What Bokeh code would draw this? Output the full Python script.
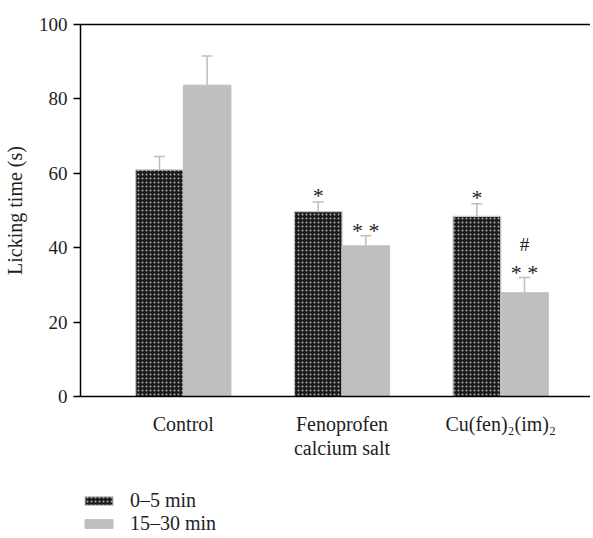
from bokeh.plotting import figure
from bokeh.layouts import column
from bokeh.models import (ColumnDataSource, Range1d, FixedTicker, LinearAxis,
                          Legend, LegendItem, Whisker)
from bokeh.core.properties import value
from bokeh.embed import file_html
from bokeh.resources import INLINE

categories = ["Control", "Fenoprofen\ncalcium salt", "Cu(fen)\u2082(im)\u2082"]
early = [60.9, 49.7, 48.4]          # 0-5 min
early_err = [3.6, 2.6, 3.4]
late = [83.7, 40.5, 27.9]           # 15-30 min
late_err = [7.8, 2.7, 4.1]
early_marks = ["", "*", "*"]
late_marks = ["", "* *", "* *"]
late_hash = ["", "", "#"]
y_ticks = [0, 20, 40, 60, 80, 100]
series_labels = ["0\u20135 min", "15\u201330 min"]

FONT = "Liberation Serif"
TXT = "#1e1e1e"
W = 590
pos = list(range(len(categories)))
off = 0.15
bw = 0.30

EARLY_STYLE = dict(fill_color="#1a1a1a", line_color="#c4c4c4", line_width=1.2,
                   hatch_pattern="dot", hatch_color="#b0b0b0", hatch_scale=4, hatch_weight=1.5)
LATE_STYLE = dict(fill_color="#bfbfbf", line_color="#bfbfbf", line_width=1)

x_e = [p - off for p in pos]
x_l = [p + off for p in pos]

src_e = ColumnDataSource(dict(x=x_e, top=early, upper=[a + b for a, b in zip(early, early_err)],
                              mark=early_marks))
src_l = ColumnDataSource(dict(x=x_l, top=late, upper=[a + b for a, b in zip(late, late_err)],
                              mark=late_marks, hsh=late_hash))

p = figure(width=W, height=461, output_backend="svg", toolbar_location=None,
           x_range=Range1d(-0.648, 2.566), y_range=Range1d(0, 100),
           min_border_left=79, min_border_right=0, min_border_top=24, min_border_bottom=60)
p.outline_line_color = None
p.grid.visible = False

for s in (src_e, src_l):
    w = Whisker(base="x", upper="upper", lower="top", source=s, dimension="height",
                line_color="#bdbdbd", line_width=1.5, level="underlay")
    w.upper_head.line_color = "#bdbdbd"
    w.upper_head.line_width = 1.5
    w.upper_head.size = 11
    w.lower_head = None
    p.add_layout(w)

p.vbar(x="x", top="top", width=bw, source=src_e, **EARLY_STYLE)
p.vbar(x="x", top="top", width=bw, source=src_l, **LATE_STYLE)

for src, col, fs, dy in ((src_e, "mark", "22px", -6), (src_l, "mark", "22px", -5),
                         (src_l, "hsh", "19px", -33)):
    p.text(x="x", y="upper", text=col, source=src, text_font=value(FONT),
           text_font_size=fs, text_align="center", text_baseline="middle",
           y_offset=dy, text_color=TXT)

p.yaxis.ticker = FixedTicker(ticks=y_ticks)
p.yaxis.axis_label = "Licking time (s)"
p.yaxis.axis_label_text_font = FONT
p.yaxis.axis_label_text_font_style = "normal"
p.yaxis.axis_label_text_font_size = "20px"
p.yaxis.major_label_text_font = FONT
p.yaxis.major_label_text_font_size = "19px"
p.yaxis.major_label_text_color = TXT
p.yaxis.axis_label_text_color = TXT
p.yaxis.minor_tick_line_color = None
p.yaxis.major_tick_out = 7
p.yaxis.major_tick_in = 0
p.yaxis.axis_line_width = 1.5
p.yaxis.major_tick_line_width = 1.5
p.yaxis.major_label_standoff = 6
p.yaxis.axis_label_standoff = 10

p.xaxis.ticker = FixedTicker(ticks=pos)
p.xaxis.major_label_overrides = {i: c for i, c in enumerate(categories)}
p.xaxis.major_label_text_font = FONT
p.xaxis.major_label_text_font_size = "20px"
p.xaxis.major_label_text_color = TXT
p.xaxis.major_label_text_line_height = 1.1
p.xaxis.major_tick_line_color = None
p.xaxis.minor_tick_line_color = None
p.xaxis.axis_line_width = 1.5
p.xaxis.major_label_standoff = 10

top_ax = LinearAxis(ticker=FixedTicker(ticks=[]), major_tick_line_color=None,
                    minor_tick_line_color=None, major_label_text_font_size="0px",
                    axis_line_width=1.5)
p.add_layout(top_ax, "above")

# legend panel underneath (same sources; bars lie outside its view range)
lg = figure(width=W, height=74, output_backend="svg", toolbar_location=None,
            x_axis_location=None, y_axis_location=None,
            min_border=0, x_range=Range1d(-0.648, 2.566), y_range=Range1d(200, 300))
lg.outline_line_color = None
lg.grid.visible = False
le = lg.vbar(x="x", top="top", width=bw, source=src_e, **EARLY_STYLE)
ll = lg.vbar(x="x", top="top", width=bw, source=src_l, **LATE_STYLE)
legend = Legend(items=[LegendItem(label=series_labels[0], renderers=[le], index=0),
                       LegendItem(label=series_labels[1], renderers=[ll], index=0)],
                location=(1, 0), orientation="vertical",
                label_text_font=FONT, label_text_font_size="20px",
                label_text_color=TXT,
                glyph_width=35, glyph_height=11, label_height=19, spacing=-5,
                padding=0, margin=0, border_line_color=None,
                background_fill_alpha=0, label_standoff=14)
lg.add_layout(legend, "center")

layout = column(p, lg, spacing=0)
open("out.html", "w").write(file_html(layout, INLINE))
